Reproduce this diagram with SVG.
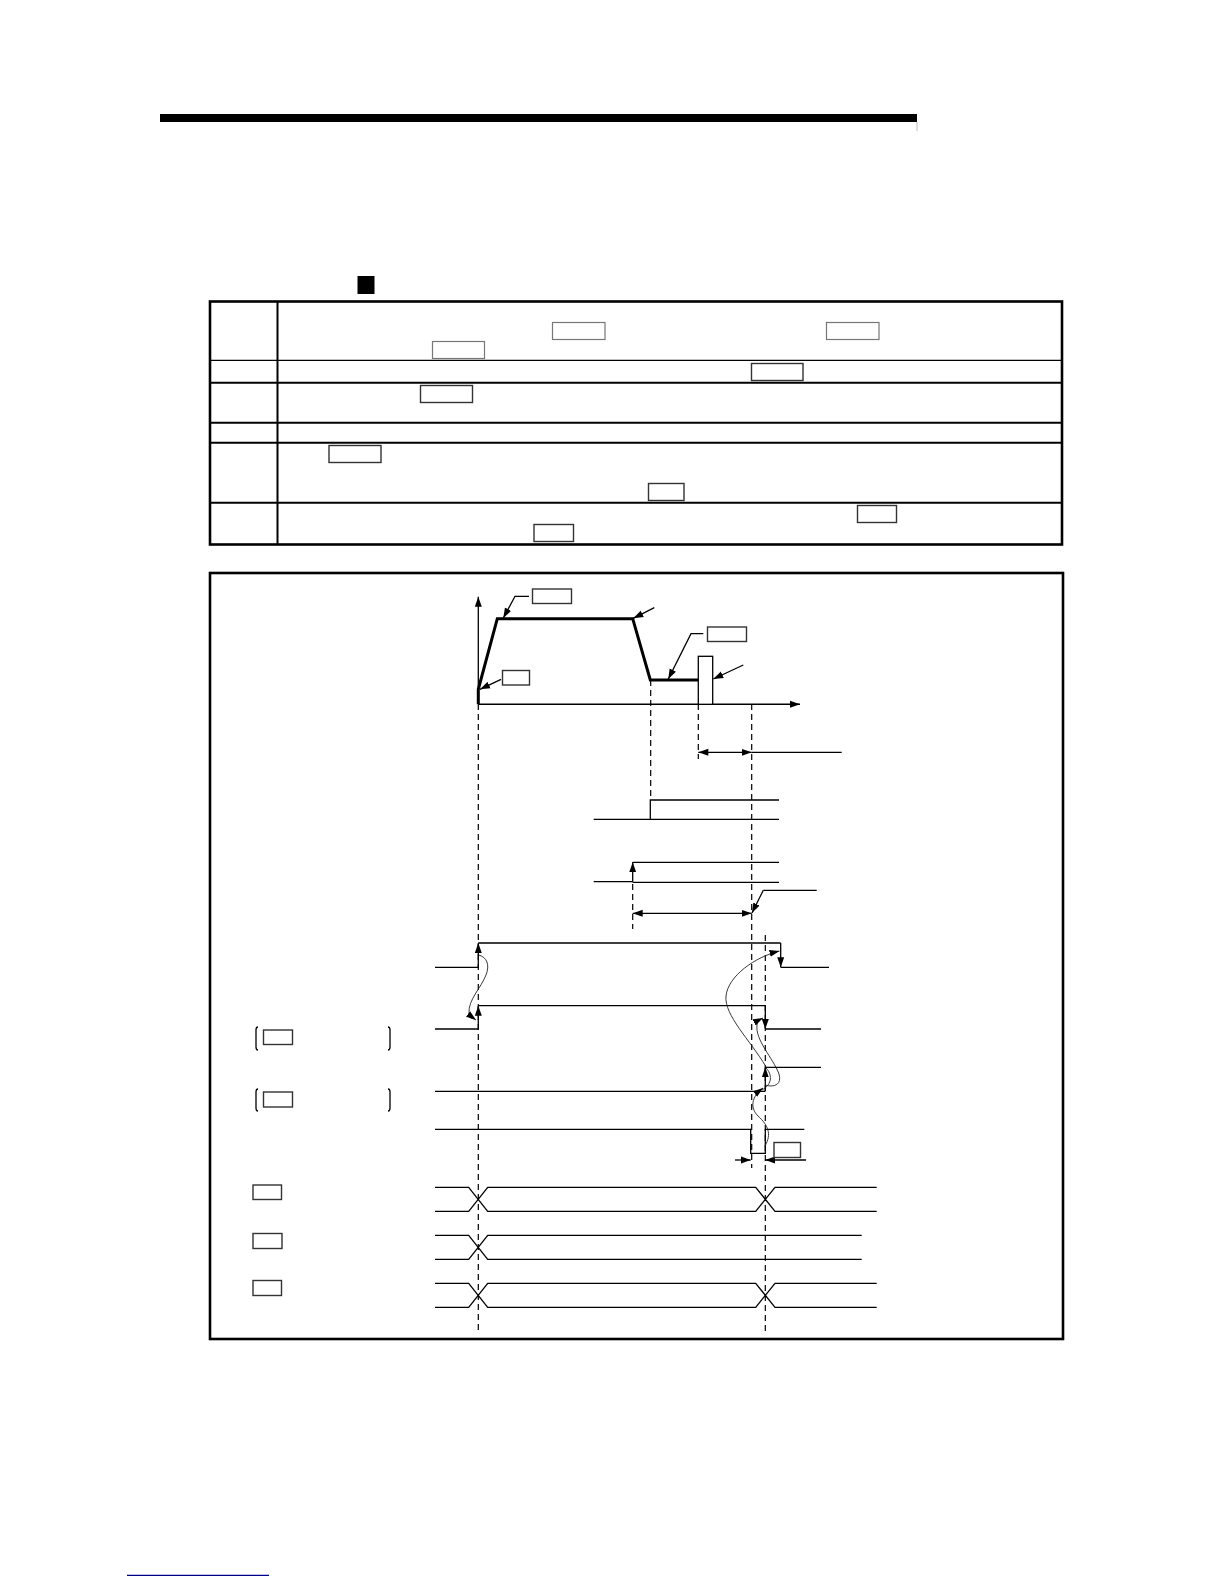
<svg xmlns="http://www.w3.org/2000/svg" width="1224" height="1584" viewBox="0 0 1224 1584">
<style>
.l{fill:none;stroke:#000;stroke-width:1.3}
.t{fill:none;stroke:#000;stroke-width:3}
.d{fill:none;stroke:#000;stroke-width:1.2;stroke-dasharray:6 4}
.c{fill:none;stroke:#222;stroke-width:.9}
.b{fill:#fff;stroke:#333;stroke-width:1.4}
.g{fill:#fff;stroke:#777;stroke-width:1.2}
.a{fill:none;stroke:#000;stroke-width:1.3;marker-end:url(#ah)}
.ab{fill:none;stroke:#000;stroke-width:1.3;marker-start:url(#as);marker-end:url(#ah)}
</style>
<defs>
<marker id="ah" markerUnits="userSpaceOnUse" markerWidth="11" markerHeight="8" refX="10" refY="4" orient="auto"><path d="M0,0.5 L10,4 L0,7.5 Z" fill="#000"/></marker>
<marker id="as" markerUnits="userSpaceOnUse" markerWidth="11" markerHeight="8" refX="0" refY="4" orient="auto"><path d="M10,0.5 L0,4 L10,7.5 Z" fill="#000"/></marker>
</defs>
<rect width="1224" height="1584" fill="#fff"/>
<g id="header">
<rect x="160" y="114" width="757" height="8" fill="#000"/>
<line x1="917" y1="122" x2="917" y2="131" stroke="#bbb" stroke-width="1"/>
<rect x="357.500" y="276" width="17" height="18" fill="#000"/>
</g>
<g id="table">
<rect x="210" y="301.500" width="852" height="243" fill="none" stroke="#000" stroke-width="2.600"/>
<line x1="277.500" y1="301" x2="277.500" y2="544" stroke="#000" stroke-width="2"/>
<line x1="210" y1="360.300" x2="1062" y2="360.300" stroke="#000" stroke-width="1.300"/>
<line x1="210" y1="382.700" x2="1062" y2="382.700" stroke="#000" stroke-width="2"/>
<line x1="210" y1="422.700" x2="1062" y2="422.700" stroke="#000" stroke-width="2"/>
<line x1="210" y1="442.700" x2="1062" y2="442.700" stroke="#000" stroke-width="2"/>
<line x1="210" y1="502.700" x2="1062" y2="502.700" stroke="#000" stroke-width="2"/>
<rect class="g" x="552.500" y="322.500" width="52.500" height="17"/>
<rect class="g" x="826.500" y="322.500" width="52.500" height="17"/>
<rect class="g" x="432.500" y="341.500" width="52" height="17"/>
<rect class="b" x="751.500" y="363.500" width="51.500" height="17"/>
<rect class="b" x="420.500" y="385.500" width="52" height="17"/>
<rect class="b" x="329" y="445.500" width="52" height="17"/>
<rect class="b" x="648.500" y="483.500" width="35.500" height="17"/>
<rect class="b" x="857.500" y="505.500" width="39" height="17"/>
<rect class="b" x="534" y="524.500" width="39.500" height="17"/>
</g>
<g id="panel">
<rect x="210" y="573" width="853" height="766" fill="none" stroke="#000" stroke-width="2.600"/>
</g>
<g id="connectors">
<path class="a" d="M478.300,704.300 V596.700"/>
<path class="a" d="M478.300,704.300 H800" style="stroke-width:1.600"/>
<path class="t" d="M478.300,704 V689.300 L497.300,618.700 H632.700 L650.300,680 H698.300"/>
<path class="a" d="M529,596.300 H515 L503.300,618"/>
<path class="a" d="M501,679.300 L480,689.300"/>
<path class="a" d="M654.300,607.700 L633.300,618.300"/>
<path class="a" d="M703.300,633.700 H691 L668.300,679"/>
<path class="a" d="M743.300,665 L713.300,679"/>
<path class="d" d="M478.300,704 V1332"/>
<path class="d" d="M632.700,884 V929"/>
<path class="d" d="M650.700,680 V800"/>
<path class="d" d="M698.300,704 V759"/>
<path class="d" d="M751.700,704 V1168"/>
<path class="d" d="M765.300,935 V1332"/>
<path class="ab" d="M698.300,752.300 H751.700"/>
<path class="l" d="M751.700,752.300 H841.700"/>
<path class="l" d="M593.700,819.300 H779 M650.300,819.300 V800 H779"/>
<path class="l" d="M593.700,881.700 H632.700 M632.700,882.300 H779 M632.700,862.300 H779"/>
<path class="a" d="M632.700,881.700 V862.300"/>
<path class="ab" d="M632.700,913.300 H751.700"/>
<path class="l" d="M763.300,890.300 H816.700"/>
<path class="a" d="M763.300,890.300 L752,913"/>
<path class="l" d="M435,967.300 H478.300 M478.300,943 H780.700 M780.700,967.300 H829"/>
<path class="a" d="M478.300,967.300 V943"/>
<path class="a" d="M780.700,943 V967.300"/>
<path class="l" d="M435,1029 H478.300 M478.300,1005.700 H765.300 M765.300,1029 H821"/>
<path class="a" d="M478.300,1029 V1005.700"/>
<path class="a" d="M765.300,1005.700 V1029"/>
<path class="l" d="M435,1091.300 H765.300 M765.300,1067.300 H821"/>
<path class="a" d="M765.300,1091.300 V1067.300"/>
<path class="l" d="M435,1129.300 H750.700 V1153.300 H765.300 V1129.300 H804.300"/>
<path class="a" d="M735,1160 H750.700"/>
<path class="a" d="M806,1160 H765.300"/>
<path class="l" d="M435,1187.300 H468.700 L487.700,1211.300 H755.700 L775,1187.300 H876.700 M435,1211.300 H468.700 L487.700,1187.300 H755.700 L775,1211.300 H876.700"/>
<path class="l" d="M435,1235.300 H468.700 L487.700,1259.300 H861.700 M435,1259.300 H468.700 L487.700,1235.300 H861.700"/>
<path class="l" d="M435,1283.300 H468.700 L487.700,1307.300 H755.700 L775,1283.300 H876.700 M435,1307.300 H468.700 L487.700,1283.300 H755.700 L775,1307.300 H876.700"/>
<path class="c" style="marker-end:url(#ah)" d="M478.500,955 C487,957 490,965 486,975 C481,988 468,1000 469,1013 C469,1020 472,1017 476,1020"/>
<path class="c" style="marker-end:url(#ah)" d="M766,1066.700 C750,1040 724,1015 726,996 C728,976 755,957 779.500,951"/>
<path class="c" style="marker-end:url(#ah)" d="M765,1085 C775,1088 782,1084 779,1074 C773,1058 755,1040 757,1025 C758,1019 759,1020 763,1018"/>
<path class="c" d="M766,1068 C772,1074 773,1084 762,1090"/>
<path class="c" style="marker-end:url(#ah)" d="M765,1146 C772,1134 768,1125 758,1116 C750,1108 751,1097 763,1088"/>
</g>
<g id="node-box-a"><rect class="b" x="532.500" y="589" width="39" height="14.500"/></g>
<g id="node-box-b"><rect class="b" x="502.500" y="670.500" width="27" height="14.500"/></g>
<g id="node-box-c"><rect class="b" x="707.500" y="627" width="39" height="14.500"/></g>
<g id="node-pulse"><rect x="698.300" y="656.300" width="14.400" height="48" fill="#fff" stroke="#000" stroke-width="1.300"/></g>
<g id="node-box-d"><rect class="b" x="774" y="1142.500" width="26.500" height="15"/></g>
<g id="node-sig1">
<rect class="b" x="263.500" y="1030" width="29" height="14.500"/>
<path class="l" stroke-width="1" d="M258,1027 Q256,1027 256,1030 V1047 Q256,1050 258,1050 M388,1027 Q390,1027 390,1030 V1047 Q390,1050 388,1050"/>
</g>
<g id="node-sig2">
<rect class="b" x="263.500" y="1092" width="29" height="15"/>
<path class="l" stroke-width="1" d="M258,1089 Q256,1089 256,1092 V1108 Q256,1111 258,1111 M388,1089 Q390,1089 390,1092 V1108 Q390,1111 388,1111"/>
</g>
<g id="node-bus1"><rect class="b" x="253" y="1185" width="28.500" height="14.500"/></g>
<g id="node-bus2"><rect class="b" x="253" y="1233.500" width="29" height="15"/></g>
<g id="node-bus3"><rect class="b" x="253" y="1280.500" width="28.500" height="15"/></g>
<g id="footer"><line x1="127" y1="1575.300" x2="269" y2="1575.300" stroke="#00008b" stroke-width="1.200"/></g>
</svg>
